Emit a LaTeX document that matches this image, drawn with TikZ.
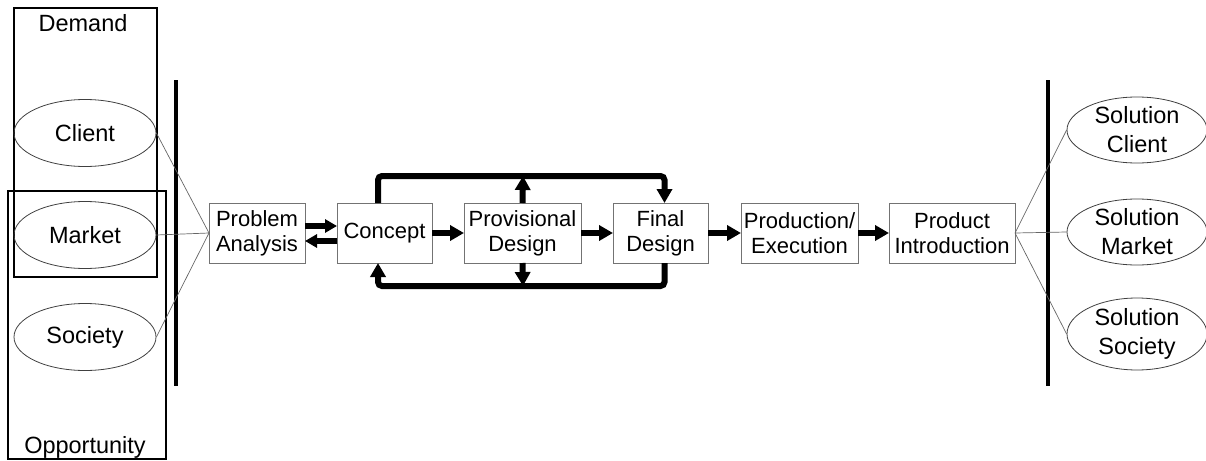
\documentclass[tikz,border=0pt]{standalone}
\usepackage{fontspec}
\setmainfont{Liberation Sans}
\usetikzlibrary{arrows.meta,positioning,shapes.geometric}

\begin{document}
\begin{tikzpicture}[x=1pt,y=-1pt,
    >={Triangle[length=14pt,width=15pt]},
    stage/.style={draw=black!55,line width=0.9pt,minimum height=60pt,inner sep=1pt,
      outer sep=0pt,align=center,font=\fontsize{22}{25}\selectfont},
    party/.style={ellipse,draw=black!75,line width=0.8pt,minimum width=142pt,
      minimum height=67pt,inner sep=0pt,align=center,font=\fontsize{23.5}{29}\selectfont},
    grouplabel/.style={anchor=base,font=\fontsize{23.5}{28}\selectfont},
    group/.style={draw=black,line width=2pt},
    bar/.style={draw=black,line width=3.5pt},
    fan/.style={draw=black!60,line width=0.7pt},
    flow/.style={->,line width=6pt},
    duo/.style={-{Triangle[length=12pt,width=13pt]},line width=5.5pt},
    feedback/.style={->,line width=6pt,rounded corners=4pt}
  ]
    \useasboundingbox (0,0) rectangle (1206,460);
    % demand / opportunity groups
    \draw[group] (14,8) rectangle (157,277);
    \draw[group] (8,191) rectangle (166,459);
    \node[grouplabel] (demand) at (83,32) {Demand};
    \node[grouplabel] (opportunity) at (85,453) {Opportunity};
    \node[party] (client) at (85,133) {Client};
    \node[party] (market) at (85,235) {Market};
    \node[party] (society) at (85,337) {Society};
    \draw[bar] (176,80) -- (176,386);
    % process chain
    \node[stage,minimum width=96pt] (analysis) at (257,233) {Problem\\Analysis};
    \node[stage,minimum width=95pt,right=32pt of analysis] (concept) {Concept};
    \node[stage,minimum width=117pt,right=32pt of concept] (provisional) {Provisional\\Design};
    \node[stage,minimum width=95pt,right=32pt of provisional] (final) {Final\\Design};
    \node[stage,minimum width=117pt,right=33pt of final] (production) {Production/\\Execution};
    \node[stage,minimum width=126pt,right=31pt of production] (introduction) {Product\\Introduction};
    % solutions
    \draw[bar] (1048,80) -- (1048,386);
    \node[party,minimum width=140pt,minimum height=66pt] (solclient) at (1137,130) {Solution\\Client};
    \node[party,minimum width=140pt,minimum height=66pt] (solmarket) at (1137,232) {Solution\\Market};
    \node[party,minimum width=140pt,minimum height=66pt] (solsociety) at (1137,334) {Solution\\Society};
    \draw[fan] (client.east) -- (analysis.west);
    \draw[fan] (market.east) -- (analysis.west);
    \draw[fan] (society.east) -- (analysis.west);
    \draw[fan] (introduction.east) -- (solclient.west);
    \draw[fan] (introduction.east) -- (solmarket.west);
    \draw[fan] (introduction.east) -- (solsociety.west);
    % arrows
    \draw[duo] ([yshift=7pt]analysis.east) -- ([yshift=7pt]concept.west);
    \draw[duo] ([yshift=-8pt]concept.west) -- ([yshift=-8pt]analysis.east);
    \draw[flow] (concept) -- (provisional);
    \draw[flow] (provisional) -- (final);
    \draw[flow] (final) -- (production);
    \draw[flow] (production) -- (introduction);
    % iteration loops
    \coordinate (looptop) at (523,176);
    \coordinate (loopbottom) at (523,286);
    \draw[feedback] ([xshift=-6.5pt]concept.north) |- (looptop) -| ([xshift=4pt]final.north);
    \draw[feedback] ([xshift=4pt]final.south) |- (loopbottom) -| ([xshift=-6.5pt]concept.south);
    \draw[flow] (provisional.north) -- (looptop);
    \draw[flow] (provisional.south) -- (loopbottom);
\end{tikzpicture}
\end{document}
